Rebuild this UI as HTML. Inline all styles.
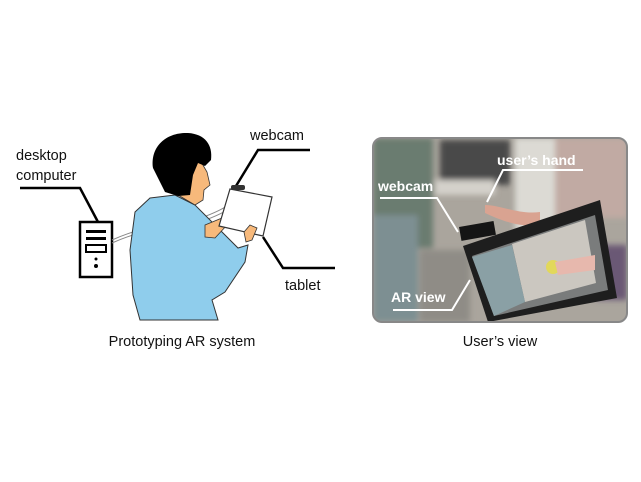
<!DOCTYPE html>
<html><head><style>
body{margin:0;background:#fff;width:641px;height:477px;overflow:hidden;font-family:"Liberation Sans","DejaVu Sans",sans-serif}
</style></head><body>
<svg width="641" height="477" viewBox="0 0 641 477" xmlns="http://www.w3.org/2000/svg">
<defs><clipPath id="cp"><rect x="373" y="138" width="254" height="184" rx="9"/></clipPath>
<filter id="bl"><feGaussianBlur stdDeviation="3"/></filter></defs>
<g font-size="14.5" fill="#111">
<text x="16" y="160">desktop</text>
<text x="16" y="180">computer</text>
<text x="250" y="140">webcam</text>
<text x="285" y="290">tablet</text>
</g>
<g stroke="#000" stroke-width="2.5" fill="none">
<polyline points="20,188 80,188 98,222"/>
<polyline points="310,150 258,150 236,186"/>
<polyline points="263,237 283,268 335,268"/>
</g>
<rect x="80" y="222" width="32" height="55" fill="#fff" stroke="#000" stroke-width="2.5"/>
<rect x="86" y="230" width="20" height="3" fill="#000"/>
<rect x="86" y="237" width="20" height="3" fill="#000"/>
<rect x="86" y="245" width="20" height="7" fill="none" stroke="#000" stroke-width="2"/>
<circle cx="96" cy="259" r="1.5" fill="#000"/>
<circle cx="96" cy="266" r="2" fill="#000"/>
<path d="M112,240 C130,232 150,225 190,222 C210,215 222,210 228,205" stroke="#888" fill="none" stroke-width="1"/>
<path d="M112,243 C130,235 150,228 192,225 C212,218 224,213 230,208" stroke="#888" fill="none" stroke-width="1"/>
<path d="M150,198 L175,195 L195,205 L215,225 L230,240 L238,248 L248,245 L245,262 L225,292 L212,300 L218,320 L140,320 L133,295 L130,250 L135,212 Z" fill="#8fcdec" stroke="#333" stroke-width="1"/>
<path d="M178,195 L180,165 L200,160 L207,172 L210,185 L204,190 L203,200 L195,205 Z" fill="#f7b97b" stroke="#333" stroke-width="0.8"/>
<path d="M153,168 C150,145 168,132 188,133 C205,134 213,145 211,160 L205,166 L198,163 L193,175 L190,195 L178,196 L165,192 Z" fill="#000"/>
<path d="M205,225 L222,218 L228,224 L215,238 L205,237 Z" fill="#f7b97b" stroke="#333" stroke-width="0.8"/>
<polygon points="230,189 272,197 263,236 219,226" fill="#fff" stroke="#333" stroke-width="1.2"/>
<rect x="231" y="185" width="14" height="5" rx="2" fill="#333"/>
<path d="M244,232 L250,225 L257,228 L252,240 L246,242 Z" fill="#f7b97b" stroke="#333" stroke-width="0.8"/>
<text x="182" y="346" font-size="14.5" fill="#111" text-anchor="middle">Prototyping AR system</text>
<g clip-path="url(#cp)">
<rect x="373" y="138" width="254" height="184" fill="#aaa59d"/>
<g filter="url(#bl)">
<rect x="373" y="138" width="60" height="110" fill="#6b7c70"/>
<rect x="373" y="215" width="45" height="107" fill="#7d8f92"/>
<rect x="440" y="140" width="70" height="45" fill="#4a4a4a"/>
<rect x="435" y="180" width="60" height="15" fill="#d4d1cb"/>
<rect x="515" y="138" width="40" height="100" fill="#dcdad4"/>
<rect x="555" y="138" width="72" height="80" fill="#c1aaa3"/>
<rect x="595" y="245" width="32" height="55" fill="#6a5874"/>
<rect x="420" y="250" width="50" height="72" fill="#8f8c86"/>
</g>
<path d="M485,205 C500,205 520,215 540,212 L540,225 C520,228 500,220 485,213 Z" fill="#d9a391"/>
<rect x="460" y="224" width="35" height="14" fill="#151515" transform="rotate(-10 477 231)"/>
<polygon points="463,246 600,200 617,298 488,322" fill="#1e1e1e"/>
<polygon points="472,256 595,215 608,290 494,316" fill="#7a7c7c"/>
<polygon points="512,244 585,220 596,283 525,302" fill="#cbc7c0"/>
<polygon points="472,257 512,245 525,302 494,316" fill="#8aa0a5"/>
<circle cx="553" cy="267" r="7" fill="#e2d85a"/>
<path d="M555,262 L595,255 L595,270 L558,275 Z" fill="#e7b8ad"/>
</g>
<rect x="373" y="138" width="254" height="184" rx="9" fill="none" stroke="#888" stroke-width="2"/>
<g font-size="14" font-weight="bold" fill="#fff">
<text x="497" y="165">user’s hand</text>
<text x="378" y="191">webcam</text>
<text x="391" y="302">AR view</text>
</g>
<g stroke="#fff" stroke-width="2" fill="none">
<polyline points="583,170 503,170 487,202"/>
<polyline points="380,198 437,198 458,232"/>
<polyline points="393,310 452,310 470,280"/>
</g>
<text x="500" y="346" font-size="14.5" fill="#111" text-anchor="middle">User’s view</text>
</svg>
</body></html>
